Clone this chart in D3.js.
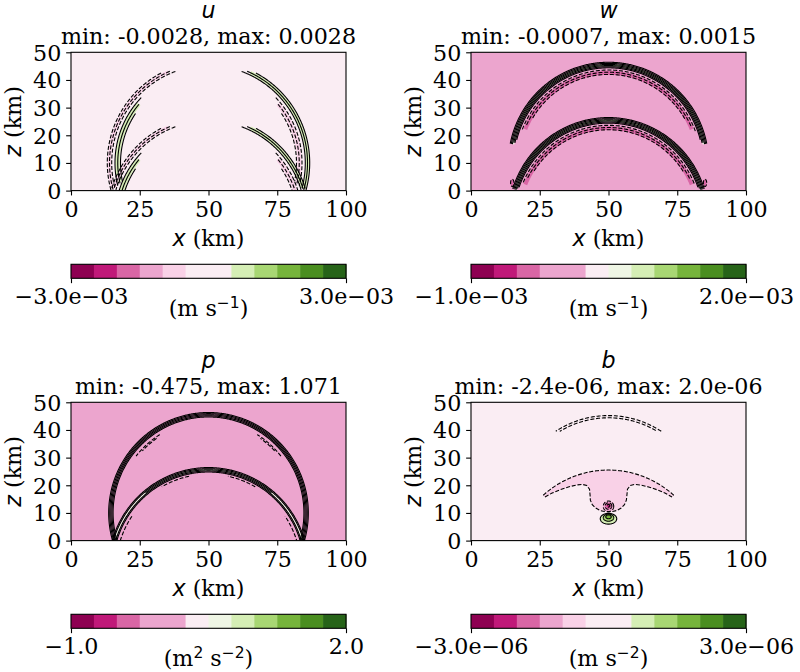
<!DOCTYPE html>
<html><head><meta charset="utf-8">
<script src="https://cdn.jsdelivr.net/npm/d3@7/dist/d3.min.js"></script>
<style>html,body{margin:0;padding:0;background:#fff;}svg{display:block;}</style>
</head><body>
<svg id="fig" width="800" height="672"></svg>
<script>
// ---------------- DATA ----------------
const varNames   = ["u", "w", "p", "b"];
const statLabels = ["min: -0.0028, max: 0.0028", "min: -0.0007, max: 0.0015",
                    "min: -0.475, max: 1.071", "min: -2.4e-06, max: 2.0e-06"];
const xTickValues = [0, 25, 50, 75, 100];
const zTickValues = [0, 10, 20, 30, 40, 50];
const cbarMin = [-3.0e-3, -1.0e-3, -1.0, -3.0e-6];
const cbarMax = [ 3.0e-3,  2.0e-3,  2.0,  3.0e-6];
const cbarMinLabels = ["\u22123.0e\u221203", "\u22121.0e\u221203", "\u22121.0", "\u22123.0e\u221206"];
const cbarMaxLabels = ["3.0e\u221203", "2.0e\u221203", "2.0", "3.0e\u221206"];
// unit labels: [text, isSuperscript]
const cbarUnits = [
  [["(m s", 0], ["\u22121", 1], [")", 0]],
  [["(m s", 0], ["\u22121", 1], [")", 0]],
  [["(m", 0], ["2", 1], [" s", 0], ["\u22122", 1], [")", 0]],
  [["(m s", 0], ["\u22122", 1], [")", 0]]
];
// PiYG sampled to 12 discrete colours
const levelColors = ["#8e0152", "#c01979", "#d966a5", "#eca5ce", "#f9d1e7", "#faedf3",
                     "#eff6e5", "#d5eeb5", "#a8d773", "#76b43b", "#4a8e20", "#276419"];
// colour index of each of the 12 colorbar slots
const cbarSlots = [
  [0, 1, 2, 3, 4, 5, 5, 7, 8, 9, 10, 11],
  [0, 1, 2, 3, 3, 5, 6, 7, 8, 9, 10, 11],
  [0, 1, 2, 3, 3, 5, 6, 7, 8, 9, 10, 11],
  [0, 1, 2, 3, 4, 5, 5, 7, 8, 9, 10, 11]
];
const backgroundLevel = [5, 3, 3, 5];

// wave-front centres (km): direct wave and ground-reflected wave
const waveSources = { D: [50, 10], R: [50, -10] };

// contour lines: [source, radius km, angle start deg, angle end deg, sign (+1 solid, -1 dashed)]
const uArcs = [
  ["D",36.8,118,196,-1],["D",36.0,113,196,-1],["D",35.2,110,195,-1],
  ["D",34.0,136,194,1],["D",33.0,140,193,1],["D",32.0,146,192,1],
  ["D",36.8,62,-16,1],["D",36.0,67,-16,1],["D",35.2,70,-15,1],
  ["D",34.0,44,-14,-1],["D",33.0,40,-13,-1],["D",32.0,34,-12,-1],
  ["R",36.8,118,163,-1],["R",36.0,113,163,-1],["R",35.2,110,163,-1],
  ["R",34.0,136,164,1],["R",33.0,140,164,1],["R",32.0,146,163,1],
  ["R",36.8,62,17,1],["R",36.0,67,17,1],["R",35.2,70,17,1],
  ["R",34.0,44,16,-1],["R",33.0,40,17,-1],["R",32.0,34,18,-1]
];
const wArcs = [
  ["D",36.4,11,169,1],["D",36.0,11,169,1],["D",35.6,11,169,1],["D",35.2,12,168,1],["D",34.8,12,168,1],["D",34.4,14,166,1],
  ["D",33.6,20,160,-1],["D",32.8,24,156,-1],["D",32.0,30,150,-1],
  ["R",36.4,17,163,1],["R",36.0,17,163,1],["R",35.6,17,163,1],["R",35.2,17,163,1],["R",34.8,18,162,1],["R",34.4,19,161,1],
  ["R",33.6,22,158,-1],["R",32.8,26,154,-1],["R",32.0,32,148,-1]
];
const pArcs = [
  ["D",36.3,-18,198,1],["D",35.9,-18,198,1],["D",35.5,-18,198,1],["D",35.1,-18,198,1],["D",34.7,-17,197,1],
  ["D",33.4,122,142,-1],["D",33.4,38,58,-1],["D",32.9,125,137,-1],["D",32.9,43,55,-1],
  ["R",36.4,16,164,1],["R",36.0,16,164,1],["R",35.6,50,130,1],["R",35.2,17,163,1],["R",34.8,17,163,1],
  ["R",34.0,60,78,-1],["R",34.0,102,120,-1],["R",33.6,146,164,-1],["R",33.6,16,34,-1]
];
const bArcs = [
  ["D",35.2,57,123,-1],["D",34.4,60,121,-1],
  ["R",35.5,48,132,-1]
];
// filled strips: [source, inner r, outer r, angle start, angle end, colour level]
const uBands = [
  ["D",32.3,33.8,140,192,7],["D",35.4,36.6,114,195,4],
  ["D",35.4,36.6,-15,65,7],["D",32.3,33.8,-13,40,4],
  ["R",32.3,33.8,140,163,7],["R",35.4,36.6,114,162,4],
  ["R",35.4,36.6,18,65,7],["R",32.3,33.8,17,40,4]
];
const wBands = [
  ["D",34.9,35.8,11,169,6],["D",35.2,35.5,30,150,7],["D",31.9,33.3,22,158,2],
  ["R",34.9,35.8,17,163,6],["R",35.2,35.5,32,148,7],["R",31.9,33.3,22,158,2]
];
const pBands = [
  ["R",35.3,35.9,16,164,6]
];
const bBands = [];
// closed blobs: [x km, z km, rx km, rz km, colour level, sign]
const uBlobs = [];
const wBlobs = [[15.0,2.8,0.6,1.3,2,-1],[85.1,2.8,0.6,1.3,2,-1]];
const pBlobs = [];
const bBlobs = [
  [50,12.4,1.9,1.9,3,-1],[50,12.5,1.2,1.2,2,-1],[50,12.6,0.5,0.5,1,-1],
  [50,7.9,3.0,1.95,7,1],[50,8.3,1.9,1.3,8,1],[50,8.6,1.0,0.7,9,1]
];
// b: edge of the negative-buoyancy pocket under the reflected front (x km, z km)
const bPocketEdge = [[26.9,15.8],[29.5,17.2],[32.4,18.4],[35.4,19.4],[38.4,20.1],[40.5,20.3],[42.1,19.9],
  [43.1,18.6],[43.3,16.5],[43.4,14.6],[44.1,13.0],[45.3,11.8],[46.9,10.9],[48.5,10.5],[50,10.4],
  [51.5,10.5],[53.1,10.9],[54.6,11.8],[55.8,13.0],[56.5,14.6],[56.7,16.5],[56.9,18.6],[57.9,19.9],
  [59.5,20.3],[61.6,20.1],[64.6,19.4],[67.6,18.4],[70.5,17.2],[73.1,15.8]];
const bPocketLevel = 4;

const panelArcs  = [uArcs, wArcs, pArcs, bArcs];
const panelBands = [uBands, wBands, pBands, bBands];
const panelBlobs = [uBlobs, wBlobs, pBlobs, bBlobs];

// ---------------- STYLE / LAYOUT ----------------
const FS = 22.2;
const SERIF = "'DejaVu Serif', serif";
const SANS = "'DejaVu Sans', sans-serif";
const AXW = 275, AXH = 138.3;
const TICK = 4.86;

const svg = d3.select("#fig");
svg.append("rect").attr("width", 800).attr("height", 672).attr("fill", "#fff");

const x = d3.scaleLinear().domain([0, 100]).range([0, AXW]);
const z = d3.scaleLinear().domain([0, 50]).range([AXH, 0]);
const line = d3.line().x(d => x(d[0])).y(d => z(d[1]));

function arcPts(src, r, a0, a1) {
  const c = waveSources[src];
  const n = Math.max(2, Math.ceil(Math.abs(a1 - a0) / 0.5));
  return d3.range(n + 1).map(i => {
    const a = (a0 + (a1 - a0) * i / n) * Math.PI / 180;
    return [c[0] + r * Math.cos(a), c[1] + r * Math.sin(a)];
  });
}
function ellPts(cx, cz, rx, rz) {
  return d3.range(0, 361, 4).map(t => {
    const a = t * Math.PI / 180;
    return [cx + rx * Math.cos(a), cz + rz * Math.sin(a)];
  });
}
function contourStyle(sel, sign) {
  sel.attr("fill", "none").attr("stroke", "#000").attr("stroke-width", 1.1)
     .attr("stroke-dasharray", sign < 0 ? "4,1.8" : null);
}

varNames.forEach((name, i) => {
  const col = i % 2, row = Math.floor(i / 2);
  const ox = 71 + 400 * col, oy = 52.3 + 350 * row;
  const g = svg.append("g").attr("transform", `translate(${ox},${oy})`);

  const cid = "clip_" + name;
  g.append("clipPath").attr("id", cid).append("rect").attr("width", AXW).attr("height", AXH);
  const plot = g.append("g").attr("clip-path", `url(#${cid})`);

  plot.append("rect").attr("width", AXW).attr("height", AXH)
      .attr("fill", levelColors[backgroundLevel[i]]);

  plot.selectAll("path.band").data(panelBands[i]).join("path").attr("class", "band")
      .attr("d", d => line(arcPts(d[0], d[2], d[3], d[4]).concat(arcPts(d[0], d[1], d[4], d[3]))) + "Z")
      .attr("fill", d => levelColors[d[5]]);

  if (name === "b") {
    const outer = arcPts("R", 35.5, 132, 48);
    plot.append("path")
        .attr("d", line(outer.concat(bPocketEdge.slice().reverse())) + "Z")
        .attr("fill", levelColors[bPocketLevel]);
    plot.append("path").attr("d", line(bPocketEdge)).call(contourStyle, -1);
  }

  plot.selectAll("path.blobfill").data(panelBlobs[i]).join("path").attr("class", "blobfill")
      .attr("d", d => line(ellPts(d[0], d[1], d[2], d[3])) + "Z")
      .attr("fill", d => levelColors[d[4]]);

  plot.selectAll("path.arc").data(panelArcs[i]).join("path").attr("class", "arc")
      .attr("d", d => line(arcPts(d[0], d[1], d[2], d[3])))
      .each(function(d) { d3.select(this).call(contourStyle, d[4]); });

  plot.selectAll("path.blobline").data(panelBlobs[i]).join("path").attr("class", "blobline")
      .attr("d", d => line(ellPts(d[0], d[1], d[2], d[3])) + "Z")
      .each(function(d) { d3.select(this).call(contourStyle, d[5]); });

  // axes
  const xa = g.append("g").attr("transform", `translate(0,${AXH})`)
      .call(d3.axisBottom(x).tickValues(xTickValues).tickFormat(d3.format("d"))
            .tickSize(TICK).tickSizeOuter(0).tickPadding(5.3));
  const za = g.append("g")
      .call(d3.axisLeft(z).tickValues(zTickValues).tickFormat(d3.format("d"))
            .tickSize(TICK).tickSizeOuter(0).tickPadding(4.86));
  [xa, za].forEach(a => {
    a.attr("font-family", SERIF).attr("font-size", FS);
    a.select(".domain").remove();
    a.selectAll("line").attr("stroke", "#000").attr("stroke-width", 1.1);
    a.selectAll("text").attr("fill", "#000").attr("font-family", SERIF).attr("font-size", FS);
  });
  za.selectAll("text").attr("dy", "0.35em");
  g.append("rect").attr("width", AXW).attr("height", AXH)
   .attr("fill", "none").attr("stroke", "#000").attr("stroke-width", 1.1);

  // titles
  g.append("text").attr("x", AXW / 2).attr("y", -34).attr("text-anchor", "middle")
   .attr("font-family", SANS).attr("font-style", "italic").attr("font-size", FS).text(name);
  g.append("text").attr("x", AXW / 2).attr("y", -8.8).attr("text-anchor", "middle")
   .attr("font-family", SERIF).attr("font-size", FS).text(statLabels[i]);

  // axis labels
  const xl = g.append("text").attr("x", AXW / 2).attr("y", 193.7).attr("text-anchor", "middle")
   .attr("font-size", FS);
  xl.append("tspan").attr("font-family", SANS).attr("font-style", "italic").text("x");
  xl.append("tspan").attr("font-family", SERIF).text(" (km)");
  const zl = g.append("text").attr("transform", `translate(-50.3,${AXH / 2}) rotate(-90)`)
   .attr("text-anchor", "middle").attr("font-size", FS);
  zl.append("tspan").attr("font-family", SANS).attr("font-style", "italic").text("z");
  zl.append("tspan").attr("font-family", SERIF).text(" (km)");

  // colorbar
  const cb = g.append("g").attr("transform", "translate(0,212)");
  const CBH = 14;
  const cbx = d3.scaleLinear().domain([cbarMin[i], cbarMax[i]]).range([0, AXW]);
  const step = (cbarMax[i] - cbarMin[i]) / cbarSlots[i].length;
  cb.selectAll("rect.slot").data(cbarSlots[i]).join("rect").attr("class", "slot")
    .attr("x", (d, k) => cbx(cbarMin[i] + k * step))
    .attr("width", (d, k) => cbx(cbarMin[i] + (k + 1) * step) - cbx(cbarMin[i] + k * step) + 0.5)
    .attr("height", CBH).attr("fill", d => levelColors[d]);
  cb.append("rect").attr("width", AXW).attr("height", CBH).attr("fill", "none")
    .attr("stroke", "#000").attr("stroke-width", 1.1);
  const cba = cb.append("g").attr("transform", `translate(0,${CBH})`)
    .call(d3.axisBottom(cbx).tickValues([cbarMin[i], cbarMax[i]])
          .tickFormat((d, k) => k === 0 ? cbarMinLabels[i] : cbarMaxLabels[i])
          .tickSize(TICK).tickSizeOuter(0).tickPadding(5.3));
  cba.attr("font-family", SERIF).attr("font-size", FS);
  cba.select(".domain").remove();
  cba.selectAll("line").attr("stroke", "#000").attr("stroke-width", 1.1);
  cba.selectAll("text").attr("fill", "#000").attr("font-family", SERIF).attr("font-size", FS);

  const ut = cb.append("text").attr("x", AXW / 2).attr("y", 52.2).attr("text-anchor", "middle")
    .attr("font-family", SERIF).attr("font-size", FS);
  let prevSup = 0;
  cbarUnits[i].forEach(([t, sup]) => {
    const ts = ut.append("tspan").text(t);
    const dy = sup && !prevSup ? -8.5 : (!sup && prevSup ? 8.5 : 0);
    ts.attr("dy", dy);
    if (sup) ts.attr("font-family", SANS).attr("font-size", 15.5);
    prevSup = sup;
  });
});
</script>
</body></html>
